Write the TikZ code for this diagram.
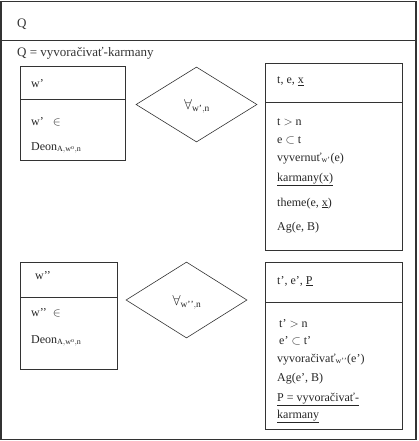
\documentclass[tikz,border=0pt]{standalone}
\usepackage{fontspec}
\setmainfont{Liberation Serif}
\usetikzlibrary{shapes.geometric}
\definecolor{ln}{HTML}{333333}
\begin{document}
\begin{tikzpicture}[x=1pt,y=-1pt,
  frame/.style={draw=ln,line width=1.4pt},
  box/.style={draw=ln,line width=0.9pt,rectangle,inner sep=0pt},
  dia/.style={draw=ln,line width=0.6pt,diamond,inner sep=0pt},
  txt/.style={anchor=base west,inner sep=0pt,font=\fontsize{12}{14}\selectfont,text=black!85},
  qlab/.style={anchor=center,inner sep=0pt,font=\fontsize{13.5}{15}\selectfont,text=black!85},
  hdr/.style={anchor=base west,inner sep=0pt,font=\fontsize{13}{15}\selectfont,text=black!80}]
\useasboundingbox (0,0) rectangle (419,441);
% outer frame
\node[frame,rectangle,inner sep=0pt,minimum width=415pt,minimum height=438pt] (outer) at (208.5,220.5) {};
\coordinate (hl) at (1,40.5);
\coordinate (hr) at (416,40.5);
\draw[frame] (hl) -- (hr);
\node[hdr] (q) at (17,28) {Q};
\node[hdr] (qdef) at (17,57) {Q = vyvoračivať-karmany};
% box w'
\node[box,minimum width=105pt,minimum height=94pt] (b1) at (72.5,113) {};
\coordinate (b1l) at (20,99); \coordinate (b1r) at (125,99);
\draw[ln,line width=0.9pt] (b1l) -- (b1r);
\node[txt] (b1a) at (31,88) {w’};
\node[txt] (b1b) at (31,125) {w’ \ \ $\in$};
\node[txt] (b1c) at (31,150) {Deon$_{\mathrm{A,w^o,n}}$};
% diamond 1
\node[dia,minimum width=121pt,minimum height=75pt] (d1) at (196.5,104.5) {};
\node[qlab] (d1t) at (197,106) {$\forall_{\mathrm{w’,n}}$};
% right box 1
\node[box,minimum width=137pt,minimum height=187pt] (r1) at (333.5,156.5) {};
\coordinate (r1l) at (265,102); \coordinate (r1r) at (402,102);
\draw[ln,line width=0.9pt] (r1l) -- (r1r);
\node[txt] (r1a) at (277,84) {t, e, \underline{x}};
\node[txt] (r1b) at (277,125) {t $>$ n};
\node[txt] (r1c) at (277,143) {e $\subset$ t};
\node[txt] (r1d) at (277,161) {vyvernuť$_{\mathrm{w’}}$(e)};
\node[txt] (r1e) at (277,181) {\underline{karmany(x)}};
\node[txt] (r1f) at (277,206) {theme(e, \underline{x})};
\node[txt] (r1g) at (277,230) {Ag(e, B)};
% box w''
\node[box,minimum width=97pt,minimum height=107pt] (b2) at (68.5,315.5) {};
\coordinate (b2l) at (20,297); \coordinate (b2r) at (117,297);
\draw[ln,line width=0.9pt] (b2l) -- (b2r);
\node[txt] (b2a) at (35,279) {w’’};
\node[txt] (b2b) at (31,316) {w’’ \ $\in$};
\node[txt] (b2c) at (31,343) {Deon$_{\mathrm{A,w^o,n}}$};
% diamond 2
\node[dia,minimum width=121pt,minimum height=76pt] (d2) at (186.5,300) {};
\node[qlab] (d2t) at (187,302) {$\forall_{\mathrm{w’’,n}}$};
% right box 2
\node[box,minimum width=137pt,minimum height=167pt] (r2) at (333.5,345.5) {};
\coordinate (r2l) at (265,302); \coordinate (r2r) at (402,302);
\draw[ln,line width=0.9pt] (r2l) -- (r2r);
\node[txt] (r2a) at (277,284) {t’, e’, \underline{P}};
\node[txt] (r2b) at (279,327) {t’ $>$ n};
\node[txt] (r2c) at (279,344) {e’ $\subset$ t’};
\node[txt] (r2d) at (277,362) {vyvoračivať$_{\mathrm{w’’}}$(e’)};
\node[txt] (r2e) at (277,381) {Ag(e’, B)};
\node[txt] (r2f) at (277,401) {\underline{P = vyvoračivať-}};
\node[txt] (r2g) at (277,418) {\underline{karmany}};
\end{tikzpicture}
\end{document}
